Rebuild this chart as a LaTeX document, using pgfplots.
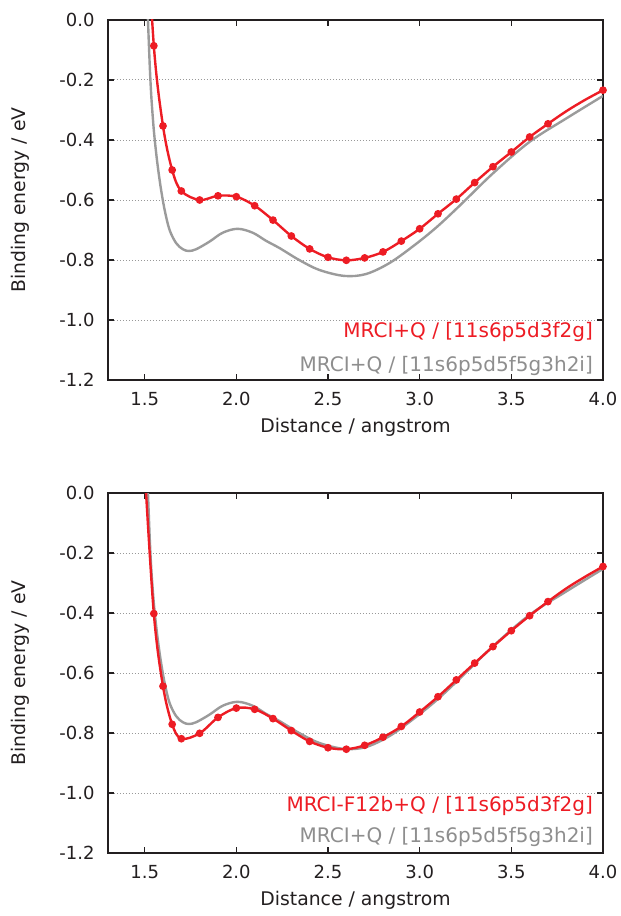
\documentclass[border=0pt]{standalone}
\usepackage{fontspec}
\setmainfont{DejaVu Sans}
\usepackage{pgfplots}
\pgfplotsset{compat=1.18}
\usepackage{pgfplotstable}

\definecolor{cred}{HTML}{ED1C24}
\definecolor{cgray}{HTML}{9B9B9B}
\definecolor{txtgray}{HTML}{8E8E8E}
\definecolor{axblack}{HTML}{231F20}

% MRCI+Q / [11s6p5d5f5g3h2i], same curve in both panels
\pgfplotstableread{
x y
1.500  0.300
1.528 -0.156
1.545 -0.330
1.563 -0.445
1.585 -0.548
1.609 -0.633
1.636 -0.700
1.672 -0.744
1.708 -0.764
1.741 -0.770
1.781 -0.764
1.853 -0.739
1.926 -0.709
2.007 -0.696
2.089 -0.709
2.162 -0.736
2.235 -0.760
2.343 -0.800
2.452 -0.833
2.588 -0.853
2.706 -0.847
2.833 -0.811
2.960 -0.756
3.086 -0.694
3.213 -0.622
3.400 -0.511
3.600 -0.406
3.800 -0.328
4.000 -0.253
}\graytab

% MRCI+Q / [11s6p5d3f2g]
\pgfplotstableread{
x y
1.50  0.450
1.55 -0.086
1.60 -0.353
1.65 -0.500
1.70 -0.570
1.80 -0.600
1.90 -0.586
2.00 -0.589
2.10 -0.619
2.20 -0.667
2.30 -0.720
2.40 -0.763
2.50 -0.791
2.60 -0.801
2.70 -0.793
2.80 -0.773
2.90 -0.737
3.00 -0.696
3.10 -0.646
3.20 -0.597
3.30 -0.542
3.40 -0.489
3.50 -0.440
3.60 -0.390
3.70 -0.346
3.80 -0.304
3.90 -0.267
4.00 -0.234
}\redtop

% MRCI-F12b+Q / [11s6p5d3f2g]
\pgfplotstableread{
x y
1.50  0.080
1.55 -0.402
1.60 -0.644
1.65 -0.771
1.70 -0.819
1.80 -0.801
1.90 -0.748
2.00 -0.717
2.10 -0.721
2.20 -0.752
2.30 -0.792
2.40 -0.828
2.50 -0.849
2.60 -0.854
2.70 -0.841
2.80 -0.814
2.90 -0.778
3.00 -0.730
3.10 -0.679
3.20 -0.623
3.30 -0.567
3.40 -0.512
3.50 -0.459
3.60 -0.409
3.70 -0.362
3.80 -0.318
3.90 -0.280
4.00 -0.245
}\redbot

\pgfplotsset{pes/.style={
  width=247.5pt, height=180pt, scale only axis,
  xmin=1.3, xmax=4.0, ymin=-1.2, ymax=0,
  xtick={1.5,2.0,2.5,3.0,3.5,4.0},
  ytick={-1.2,-1.0,-0.8,-0.6,-0.4,-0.2,0},
  tick align=inside, major tick length=3pt,
  every tick/.style={axblack, line width=0.8pt},
  axis line style={axblack, line width=1pt},
  ymajorgrids,
  major grid style={gray!80, line width=0.5pt, dash pattern=on 0.6pt off 0.9pt},
  /pgf/number format/.cd, fixed, fixed zerofill, precision=1, assume math mode=true,
  /pgfplots/.cd,
  tick label style={font=\fontsize{9}{10}\selectfont, text=axblack, inner sep=0pt},
  yticklabel style={anchor=east, xshift=-6.5pt},
  xticklabel style={anchor=north, yshift=-6pt},
  label style={font=\fontsize{9.4}{11}\selectfont, text=axblack},
  xlabel={Distance / angstrom},
  ylabel={Binding energy / eV},
  xlabel style={at={(axis description cs:0.5,-0.147)}, anchor=base},
  ylabel style={at={(axis description cs:-0.178,0.5)}, anchor=center},
  clip=true,
}}

\begin{document}
\begin{tikzpicture}
\useasboundingbox (-54pt,190pt) rectangle (256.5pt,-268pt);

\begin{axis}[pes, at={(0pt,0pt)}, anchor=south west]
\addplot[cgray, line width=1.2pt, smooth, tension=0.55] table[x=x,y=y] {\graytab};
\addplot[cred, line width=1.2pt, smooth, tension=0.55, mark=*, mark size=1.3pt,
  mark indices={1,...,24,27}] table[x=x,y=y] {\redtop};
\node[anchor=base east, text=cred, font=\fontsize{10}{12}\selectfont, inner sep=0pt]
  at (axis cs:3.947,-1.057) {MRCI+Q / [11s6p5d3f2g]};
\node[anchor=base east, text=txtgray, font=\fontsize{10}{12}\selectfont, inner sep=0pt]
  at (axis cs:3.947,-1.170) {MRCI+Q / [11s6p5d5f5g3h2i]};
\end{axis}

\begin{axis}[pes, at={(0pt,-236.5pt)}, anchor=south west]
\addplot[cgray, line width=1.2pt, smooth, tension=0.55] table[x=x,y=y] {\graytab};
\addplot[cred, line width=1.2pt, smooth, tension=0.55, mark=*, mark size=1.3pt,
  mark indices={1,...,24,27}] table[x=x,y=y] {\redbot};
\node[anchor=base east, text=cred, font=\fontsize{10}{12}\selectfont, inner sep=0pt]
  at (axis cs:3.947,-1.060) {MRCI-F12b+Q / [11s6p5d3f2g]};
\node[anchor=base east, text=txtgray, font=\fontsize{10}{12}\selectfont, inner sep=0pt]
  at (axis cs:3.947,-1.165) {MRCI+Q / [11s6p5d5f5g3h2i]};
\end{axis}
\end{tikzpicture}
\end{document}
